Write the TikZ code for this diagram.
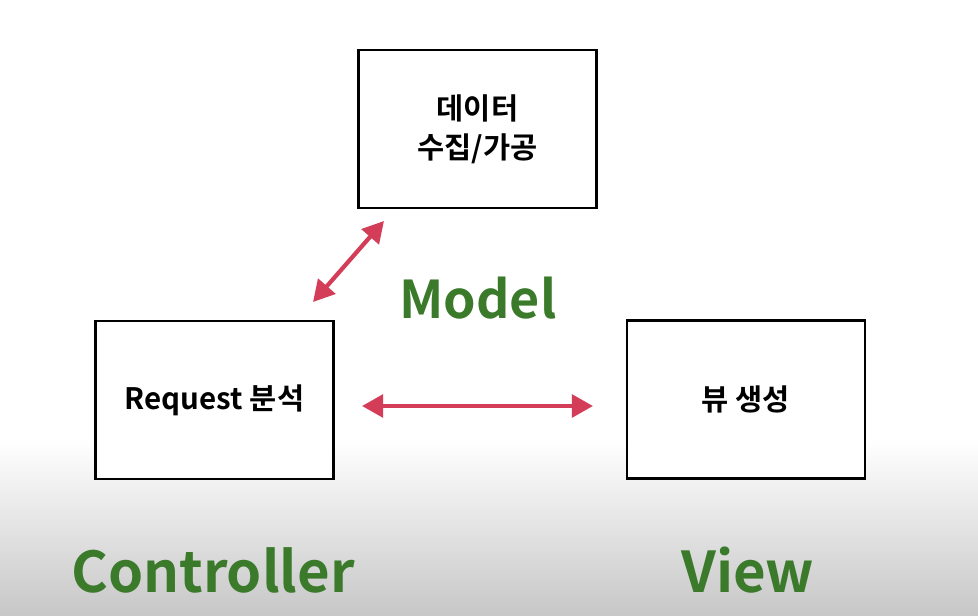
\documentclass[tikz,border=0pt]{standalone}
\usepackage{fontspec}
\usepackage{xcolor}
\usepackage{tikz}
\usetikzlibrary{arrows.meta,positioning,calc}
\setmainfont{Noto Sans CJK KR}[BoldFont={* Bold}]
\definecolor{labelgreen}{HTML}{3A7A2A}
\definecolor{arrowred}{HTML}{D43D58}

\tikzset{
  mvcbox/.style={draw=black, line width=2pt, fill=white, minimum width=5.95cm,
    minimum height=3.95cm, align=center, font=\bfseries\fontsize{21}{28}\selectfont},
  rolelabel/.style={text=labelgreen, font=\bfseries\fontsize{40}{44}\selectfont},
  linkarrow/.style={draw=arrowred, line width=3pt,
    {Triangle[length=15pt,width=16pt]}-{Triangle[length=15pt,width=16pt]}}
}

\begin{document}
\begin{tikzpicture}[x=0.025cm,y=-0.025cm]
% background with grey fade at the bottom
\fill[white] (0,0) rectangle (978,616);
\shade[top color=white, bottom color=black!22] (0,440) rectangle (978,616);
\useasboundingbox (0,0) rectangle (978,616);

% the three boxes
\node[mvcbox] (model) at (477.5,129) {데이터\\수집/가공};
\node[mvcbox] (ctrl) at (214.5,400) {Request 분석};
\node[mvcbox] (view) at (746,399.5) {뷰 생성};

% role names
\node[rolelabel, font=\bfseries\fontsize{37}{44}\selectfont] (modellbl) at (478,298) {Model};
\node[rolelabel] (ctrllbl) at (213,570) {Controller};
\node[rolelabel] (viewlbl) at (748,570) {View};

% links
\coordinate (cm1) at (313,302);
\coordinate (cm2) at (384,221);
\coordinate (cv1) at (362,406);
\coordinate (cv2) at (593,406);
\draw[linkarrow] (cm1) -- (cm2);
\draw[linkarrow] (cv1) -- (cv2);
\end{tikzpicture}
\end{document}
